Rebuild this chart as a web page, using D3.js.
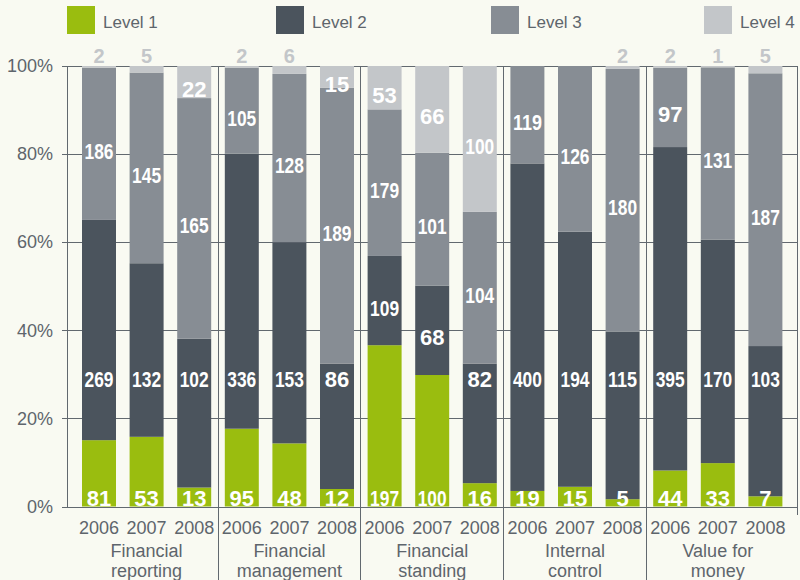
<!DOCTYPE html>
<html>
<head>
<meta charset="utf-8">
<script src="https://cdn.jsdelivr.net/npm/d3@7"></script>
<style>
  body { margin: 0; background: #f9faf2; }
  svg { display: block; font-family: "Liberation Sans", Arial, sans-serif; }
</style>
</head>
<body>
<svg id="chart" width="800" height="580"></svg>
<script>
// categories
var groups = [["Financial", "reporting"], ["Financial", "management"], ["Financial", "standing"],
              ["Internal", "control"], ["Value for", "money"]];
var years = ["2006", "2007", "2008"];
var levels = ["Level 1", "Level 2", "Level 3", "Level 4"];
var yTicks = [0, 0.2, 0.4, 0.6, 0.8, 1];

// counts per bar, group by group, 2006-2008
var level1 = [81, 53, 13,   95, 48, 12,   197, 100, 16,   19, 15, 5,     44, 33, 7];
var level2 = [269, 132, 102, 336, 153, 86, 109, 68, 82,   400, 194, 115, 395, 170, 103];
var level3 = [186, 145, 165, 105, 128, 189, 179, 101, 104, 119, 126, 180, 97, 131, 187];
var level4 = [2, 5, 22,     2, 6, 15,     53, 66, 100,    0, 0, 2,       2, 1, 5];

var colors = ["#9abd0f", "#4b545d", "#878d94", "#c3c6c9"];
var textColor = "#5e656c";
var lineColor = "#62696f";

var keys = ["l1", "l2", "l3", "l4"];
var rows = [];
groups.forEach(function(g, gi) {
  years.forEach(function(yr, yi) {
    var i = gi * 3 + yi;
    rows.push({ id: i, group: gi, year: yr,
                l1: level1[i], l2: level2[i], l3: level3[i], l4: level4[i] });
  });
});

var svg = d3.select("#chart");

var x = d3.scaleBand()
          .domain(rows.map(d => d.id))
          .range([75.2, 789.2])
          .paddingInner(0.286)
          .paddingOuter(0.143);

var y = d3.scaleLinear()
          .domain([0, 1])
          .range([506.5, 66]);

var stack = d3.stack()
              .keys(keys)
              .offset(d3.stackOffsetExpand);
var series = stack(rows);

var gap = x.step() * x.paddingInner();

// gridlines
svg.append("g")
   .attr("transform", "translate(67,0)")
   .call(d3.axisLeft(y).tickValues(yTicks).tickSize(-730).tickFormat(""))
   .call(g => g.select(".domain").remove())
   .selectAll("line")
     .attr("stroke", lineColor)
     .attr("stroke-width", 1)
     .attr("shape-rendering", "crispEdges");

// group separators
var seps = d3.range(1, groups.length).map(k => x(k * 3) - gap / 2);
svg.append("g").selectAll("line")
   .data(seps)
   .enter().append("line")
     .attr("x1", d => d).attr("x2", d => d)
     .attr("y1", y(1)).attr("y2", 580)
     .attr("stroke", lineColor)
     .attr("shape-rendering", "crispEdges");

svg.append("line")
   .attr("x1", 797).attr("x2", 797)
   .attr("y1", y(1)).attr("y2", y(0) + 8)
   .attr("stroke", lineColor)
   .attr("shape-rendering", "crispEdges");

// bars
svg.append("g").selectAll("g")
   .data(series)
   .enter().append("g")
     .attr("fill", (d, i) => colors[i])
   .selectAll("rect")
   .data(d => d)
   .enter().append("rect")
     .attr("x", d => x(d.data.id))
     .attr("width", x.bandwidth())
     .attr("y", d => y(d[1]))
     .attr("height", d => y(d[0]) - y(d[1]));

// y axis
var yAxis = svg.append("g")
   .attr("transform", "translate(67,0)")
   .call(d3.axisLeft(y).tickValues(yTicks).tickSize(5).tickPadding(9)
           .tickFormat(d3.format(".0%")));
yAxis.selectAll("line, path").attr("stroke", lineColor).attr("shape-rendering", "crispEdges");
yAxis.selectAll("text")
     .attr("fill", textColor)
     .attr("font-size", "18px")
     .attr("font-family", "Liberation Sans, Arial, sans-serif");

// value labels
function labelPos(d, li) {
  var top = y(d[1]), bot = y(d[0]);
  if (li === 0) return { y: y(0) - 1, above: false };
  if (li === 1) {
    var ly = y(0.29);
    if (ly > top + 10 && ly < bot - 10) return { y: ly + 8, above: false };
  }
  if (li === 3 && bot - top < 14) return { y: y(1) - 3, above: true };
  return { y: (top + bot) / 2 + 15, above: false };
}

var labels = svg.append("g")
   .attr("text-anchor", "middle")
   .attr("font-weight", "bold");

series.forEach(function(layer, li) {
  labels.selectAll(".lab" + li)
    .data(layer.filter(d => d.data[keys[li]] > 0))
    .enter().append("text")
      .attr("class", "lab" + li)
      .attr("x", d => x(d.data.id) + x.bandwidth() / 2)
      .attr("y", d => labelPos(d, li).y)
      .attr("fill", d => labelPos(d, li).above ? colors[3] : "#ffffff")
      .attr("font-size", d => labelPos(d, li).above ? "20px" : "22px")
      .text(d => d.data[keys[li]])
      .each(function() {
        var w = this.getComputedTextLength();
        if (w > x.bandwidth() - 5) {
          d3.select(this).attr("textLength", x.bandwidth() - 5)
                         .attr("lengthAdjust", "spacingAndGlyphs");
        }
      });
});

// year labels
svg.append("g").selectAll("text")
   .data(rows)
   .enter().append("text")
     .attr("x", d => x(d.id) + x.bandwidth() / 2)
     .attr("y", 534)
     .attr("text-anchor", "middle")
     .attr("fill", textColor)
     .attr("font-size", "18px")
     .text(d => d.year);

// group labels
var gl = svg.append("g").selectAll("text")
   .data(groups)
   .enter().append("text")
     .attr("x", (d, i) => (x(i * 3) + x(i * 3 + 2) + x.bandwidth()) / 2)
     .attr("y", 557)
     .attr("text-anchor", "middle")
     .attr("fill", textColor)
     .attr("font-size", "18px");
gl.selectAll("tspan")
  .data(d => d)
  .enter().append("tspan")
    .attr("x", function() { return d3.select(this.parentNode).attr("x"); })
    .attr("dy", (d, i) => i === 0 ? 0 : 20)
    .text(d => d);

// legend
var legX = [67, 276, 491, 704];
var leg = svg.append("g").selectAll("g")
   .data(levels)
   .enter().append("g")
     .attr("transform", (d, i) => "translate(" + legX[i] + ",6)");
leg.append("rect")
   .attr("width", 28).attr("height", 28)
   .attr("fill", (d, i) => colors[i]);
leg.append("text")
   .attr("x", 36).attr("y", 22)
   .attr("fill", textColor)
   .attr("font-size", "17px")
   .text(d => d);
</script>
</body>
</html>
